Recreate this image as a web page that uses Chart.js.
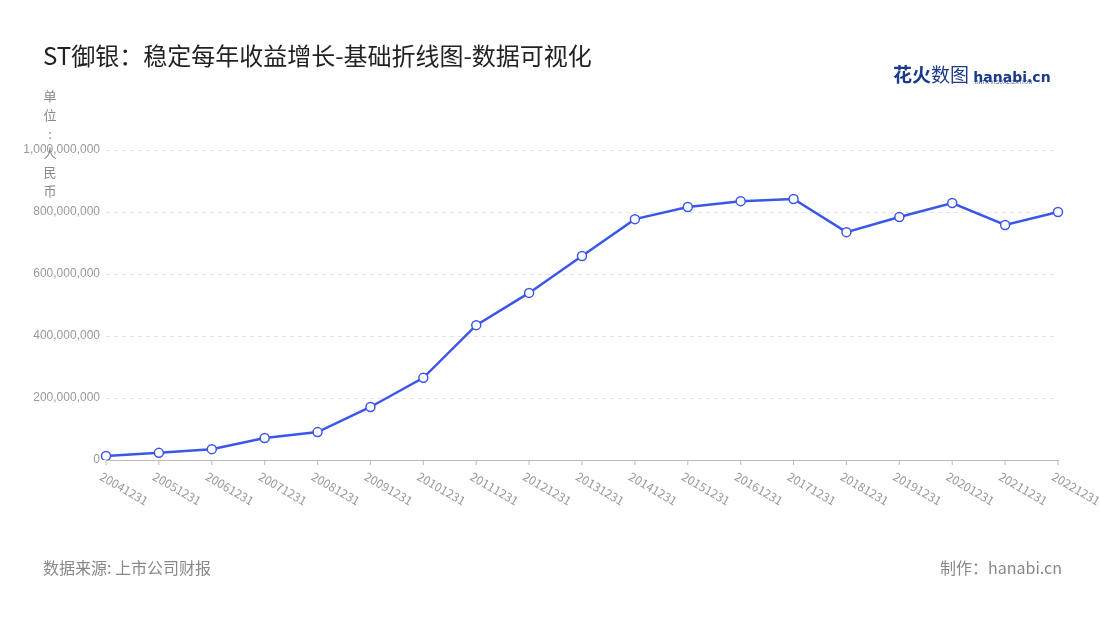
<!DOCTYPE html>
<html><head><meta charset="utf-8">
<script src="https://cdn.jsdelivr.net/npm/chart.js@4"></script>
<style>
body{margin:0;width:1100px;height:620px;background:#fff;font-family:"Noto Sans CJK SC","Noto Sans",sans-serif;overflow:hidden}
#wrap{position:absolute;left:0;top:0;width:1100px;height:620px}
.t{position:absolute;white-space:nowrap}
#unit div{height:19px;text-align:center;width:14px}
</style></head><body>
<div id="wrap"><canvas id="c" width="1100" height="620"></canvas></div>
<div class="t" style="left:43px;top:37px;font-size:24px;color:#222">ST御银：稳定每年收益增长-基础折线图-数据可视化</div>
<div class="t" id="unit" style="left:43px;top:86px;font-size:13px;color:#888;line-height:19px"><div>单</div><div>位</div><div>:</div><div>人</div><div>民</div><div>币</div></div>
<div class="t" style="left:43px;top:555px;font-size:16px;color:#888">数据来源: 上市公司财报</div>
<div class="t" style="left:940px;top:555px;font-size:16px;color:#888">制作：hanabi.cn</div>
<div class="t" style="left:893px;top:60px;font-size:19px;font-weight:bold;color:#1a3a8a">花火<span style="font-weight:normal">数图</span> <span style="font-size:14px;font-family:'DejaVu Sans'">hanabi.cn</span></div>
<div class="t" style="left:975px;top:78px;font-size:5px;color:#1a3a8a;letter-spacing:0.5px">DATA VISUALIZATION</div>
<script>
const categories=["20041231","20051231","20061231","20071231","20081231","20091231","20101231","20111231","20121231","20131231","20141231","20151231","20161231","20171231","20181231","20191231","20201231","20211231","20221231"];
const revenue=[13e6,23e6,35e6,71e6,90e6,171e6,265e6,435e6,539e6,658e6,777e6,816e6,835e6,842e6,735e6,784e6,829e6,758e6,800e6];
const yTicks=[0,2e8,4e8,6e8,8e8,1e9];
const xLabels={id:'xl',afterDraw(ch){const c=ch.ctx,s=ch.scales.x,b=ch.chartArea.bottom;c.save();c.font='12px "Noto Sans CJK SC",sans-serif';c.fillStyle='#999';c.strokeStyle='#bbb';c.lineWidth=1;
categories.forEach((l,i)=>{const x=s.getPixelForValue(i);c.beginPath();c.moveTo(x,b);c.lineTo(x,b+5);c.stroke();c.save();c.translate(x-2,b+10);c.rotate(30*Math.PI/180);c.textBaseline='top';c.fillText(l,0,0);c.restore();});c.restore();}};
new Chart(document.getElementById('c'),{type:'line',
data:{labels:categories,datasets:[{data:revenue,borderColor:'#3b57e8',borderWidth:2.5,pointBackgroundColor:'#fff',pointBorderColor:'#3b57e8',pointBorderWidth:1.5,pointRadius:4.5,tension:0}]},
options:{responsive:false,animation:false,layout:{padding:{left:0,top:150,bottom:160,right:42}},
plugins:{legend:{display:false},tooltip:{enabled:false}},
scales:{x:{offset:false,ticks:{display:false},grid:{display:false},border:{color:'#bbb'},afterFit(s){s.height=0}},
y:{min:0,max:1e9,afterFit(s){s.width=106},afterBuildTicks(s){s.ticks=yTicks.map(v=>({value:v}))},
ticks:{color:'#999',font:{size:12},padding:6,callback:v=>v.toLocaleString('en-US')},
grid:{color:'#e3e3e3',drawTicks:false},border:{display:false,dash:[4,4]}}}},
plugins:[xLabels]});
</script></body></html>
